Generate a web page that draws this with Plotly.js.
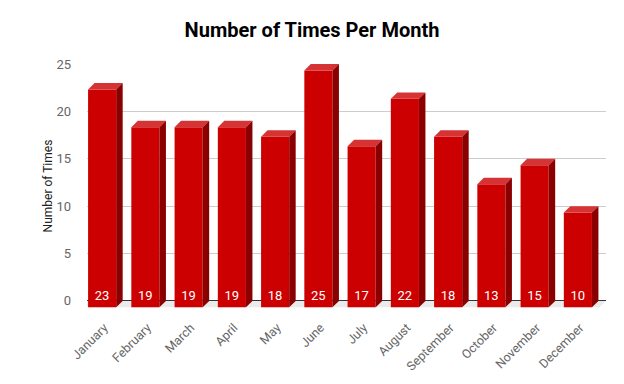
<!DOCTYPE html>
<html><head><meta charset="utf-8">
<script src="https://cdn.plot.ly/plotly-3.0.1.min.js"></script>
<style>html,body{margin:0;padding:0;background:#fff}#chart{width:624px;height:384px}</style>
</head><body><div id="chart"></div>
<script>
const months = ["January","February","March","April","May","June","July","August","September","October","November","December"];
const counts = [23,19,19,19,18,25,17,22,18,13,15,10];

const W = 0.65;      // bar width (category units)
const DX = 0.15;     // 3D depth in x (category units)
const DY = 0.68;     // 3D depth in y (value units)

const idx = months.map((m,i)=>i);
const frontX = idx.map(i=>i-DX);

// top faces and side faces
const topX=[], topY=[], sideX=[], sideY=[];
idx.forEach(i=>{
  const v = counts[i];
  const fl = i-DX-W/2, fr = i-DX+W/2, bl = i-W/2, br = i+W/2;
  topX.push(fl, bl, br, fr, fl, null);
  topY.push(v-DY, v, v, v-DY, v-DY, null);
  sideX.push(fr, br, br, fr, fr, null);
  sideY.push(v-DY, v, 0, -DY, v-DY, null);
});

const data = [
  {type:'bar', x:frontX, y:counts, base:-DY, width:W, marker:{color:'#cc0000', line:{width:0}}, hoverinfo:'skip'},
  {type:'scatter', x:topX, y:topY, mode:'lines', fill:'toself', fillcolor:'#d63434', line:{width:0, color:'#d63434'}, hoverinfo:'skip'},
  {type:'scatter', x:sideX, y:sideY, mode:'lines', fill:'toself', fillcolor:'#8a0000', line:{width:0, color:'#8a0000'}, hoverinfo:'skip'},
  {type:'scatter', x:frontX, y:counts.map(()=>0.45), mode:'text', text:counts.map(String), textposition:'middle center',
   textfont:{family:'Roboto', size:13, color:'#ffffff'}, hoverinfo:'skip'}
];

const layout = {
  width:624, height:384,
  margin:{l:87, r:18, t:63.5, b:76},
  paper_bgcolor:'#fff', plot_bgcolor:'#fff',
  showlegend:false,
  font:{family:'Roboto', color:'#555'},
  title:{text:'<b>Number of Times Per Month</b>', x:0.5, xanchor:'center', y:0.922, yanchor:'middle',
         font:{family:'Roboto', size:20, color:'#000'}},
  xaxis:{range:[-0.5,11.5], tickvals:idx.map(i=>i-0.1), ticktext:months, tickangle:-45, showgrid:false, zeroline:false,
         showline:false, ticks:'', ticklabelstandoff:9, tickfont:{family:'Roboto', size:12.5, color:'#666'}},
  yaxis:{range:[-0.75,25], dtick:5, tick0:0, showgrid:true, gridcolor:'#cccccc', gridwidth:1,
         zeroline:true, zerolinecolor:'#333', zerolinewidth:1, showline:false, ticks:'', ticklabelstandoff:15,
         tickfont:{family:'Roboto', size:13, color:'#666'},
         title:{text:'Number of Times', font:{family:'Roboto', size:12, color:'#222'}, standoff:1}},
  shapes:[{type:'path', xref:'x', yref:'y', layer:'below',
           path:'M -0.5 0 L 11.5 0 L '+(11.5-DX)+' '+(-DY)+' L '+(-0.5-DX)+' '+(-DY)+' Z',
           fillcolor:'#ebebeb', line:{width:0}}]
};
Plotly.newPlot('chart', data, layout, {displayModeBar:false, staticPlot:true});
</script></body></html>
